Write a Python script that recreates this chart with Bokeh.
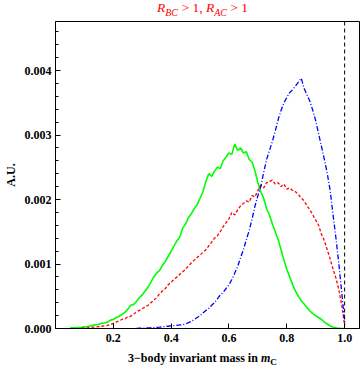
import numpy as np
from bokeh.plotting import figure
from bokeh.models import Range1d, FixedTicker, PrintfTickFormatter, Span, Div
from bokeh.layouts import column
from bokeh.embed import file_html
from bokeh.resources import INLINE

# bin centres of the histograms (3-body invariant mass in m_C)
mass = np.round(np.arange(1, 101) * 0.01, 2)

# histogram heights in units of 1e-3 (A.U.)
green = [0.000, 0.000, 0.002, 0.004, 0.006, 0.010, 0.012, 0.016, 0.020, 0.025,
         0.030, 0.040, 0.050, 0.060, 0.065, 0.080, 0.085, 0.100, 0.130, 0.140,
         0.170, 0.190, 0.220, 0.250, 0.300, 0.360, 0.370, 0.420, 0.480, 0.520,
         0.580, 0.640, 0.720, 0.800, 0.860, 0.900, 0.980, 1.040, 1.120, 1.200,
         1.280, 1.360, 1.420, 1.560, 1.620, 1.720, 1.780, 1.860, 1.920, 2.020,
         2.120, 2.280, 2.400, 2.360, 2.440, 2.500, 2.480, 2.600, 2.660, 2.720,
         2.700, 2.860, 2.760, 2.800, 2.720, 2.740, 2.620, 2.580, 2.440, 2.260,
         2.120, 2.020, 1.860, 1.760, 1.620, 1.500, 1.380, 1.220, 1.060, 0.920,
         0.800, 0.680, 0.580, 0.500, 0.430, 0.380, 0.320, 0.270, 0.230, 0.200,
         0.170, 0.140, 0.100, 0.070, 0.040, 0.020, 0.010, 0.005, 0.000, 0.000]

red = [0.000, 0.000, 0.000, 0.000, 0.000, 0.000, 0.000, 0.002, 0.004, 0.006,
       0.010, 0.014, 0.020, 0.025, 0.030, 0.035, 0.040, 0.050, 0.060, 0.080,
       0.100, 0.120, 0.140, 0.150, 0.180, 0.190, 0.220, 0.260, 0.280, 0.310,
       0.330, 0.360, 0.400, 0.440, 0.480, 0.540, 0.580, 0.620, 0.680, 0.720,
       0.760, 0.800, 0.840, 0.880, 0.920, 0.970, 1.020, 1.060, 1.100, 1.140,
       1.180, 1.220, 1.280, 1.340, 1.400, 1.440, 1.500, 1.580, 1.640, 1.700,
       1.800, 1.760, 1.840, 1.900, 1.940, 1.980, 1.960, 2.060, 2.040, 2.140,
       2.220, 2.180, 2.260, 2.280, 2.300, 2.240, 2.260, 2.200, 2.240, 2.160,
       2.180, 2.140, 2.120, 2.080, 2.020, 1.980, 1.900, 1.840, 1.760, 1.680,
       1.600, 1.460, 1.360, 1.220, 1.080, 0.920, 0.780, 0.600, 0.360, 0.050]

blue = [0.000, 0.000, 0.000, 0.000, 0.000, 0.000, 0.000, 0.000, 0.000, 0.000,
        0.000, 0.000, 0.000, 0.000, 0.000, 0.000, 0.000, 0.000, 0.000, 0.000,
        0.000, 0.000, 0.000, 0.000, 0.000, 0.000, 0.000, 0.002, 0.004, 0.005,
        0.008, 0.010, 0.012, 0.015, 0.018, 0.020, 0.025, 0.030, 0.035, 0.040,
        0.045, 0.050, 0.055, 0.060, 0.070, 0.090, 0.110, 0.140, 0.170, 0.200,
        0.240, 0.280, 0.310, 0.360, 0.400, 0.460, 0.520, 0.560, 0.620, 0.680,
        0.760, 0.860, 0.960, 1.100, 1.220, 1.380, 1.520, 1.700, 1.900, 2.060,
        2.200, 2.420, 2.620, 2.760, 2.900, 3.060, 3.240, 3.380, 3.500, 3.580,
        3.660, 3.700, 3.760, 3.820, 3.880, 3.720, 3.620, 3.520, 3.380, 3.220,
        3.020, 2.820, 2.620, 2.400, 2.140, 1.760, 1.400, 1.000, 0.560, 0.100]

green_start, red_start, blue_start = 4, 8, 27   # first drawn bin of each series
x_ticks = [0.2, 0.4, 0.6, 0.8, 1.0]
y_ticks = [0.0, 0.001, 0.002, 0.003, 0.004]
y_minor = [0.0002 * i for i in range(24)]
kinematic_edge = 1.0
scale = 1e-3

FONT = "Liberation Serif"

title_div = Div(
    text=('<div style="position:relative; left:157px; top:0px; white-space:nowrap; '
          'font-family:\'Liberation Serif\'; font-size:13.5px; color:#ff0000; line-height:14px;">'
          '<i>R</i><sub style="font-size:10px; font-style:italic; line-height:0;">BC</sub> &gt; 1, '
          '<i>R</i><sub style="font-size:10px; font-style:italic; line-height:0;">AC</sub> &gt; 1</div>'),
    width=360, height=20, margin=(0, 0, 0, 0))

xlabel_div = Div(
    text=('<div style="position:relative; left:128px; top:2px; white-space:nowrap; '
          'font-family:\'Liberation Serif\'; font-size:12px; font-weight:bold; color:#000000; line-height:14px;">'
          '3\u2212body invariant mass in <i>m</i><sub style="font-size:9px; line-height:0;">C</sub></div>'),
    width=360, height=21, margin=(0, 0, 0, 0))

p = figure(width=360, height=328, output_backend="svg", toolbar_location=None,
           x_range=Range1d(0.0, 1.0514), y_range=Range1d(0.0, 0.00476),
           min_border_left=52, min_border_right=1, min_border_top=1,
           min_border_bottom=20, margin=(0, 0, 0, 0))
p.background_fill_color = "white"
p.border_fill_color = "white"
p.outline_line_color = "black"
p.outline_line_width = 1
p.grid.visible = False

for ax in (p.xaxis[0], p.yaxis[0]):
    ax.axis_line_color = "black"
    ax.major_tick_line_color = "black"
    ax.minor_tick_line_color = "black"
    ax.major_tick_in = 5
    ax.major_tick_out = 0
    ax.minor_tick_in = 3
    ax.minor_tick_out = 0
    ax.major_label_text_font = FONT
    ax.major_label_text_font_style = "bold"
    ax.major_label_text_font_size = "12px"
    ax.major_label_text_color = "black"

p.xaxis.major_label_standoff = 5
p.yaxis.major_label_standoff = 4
p.xaxis.ticker = FixedTicker(ticks=x_ticks, minor_ticks=[])
p.xaxis.formatter = PrintfTickFormatter(format="%.1f")
p.yaxis.ticker = FixedTicker(ticks=y_ticks, minor_ticks=y_minor)
p.yaxis.formatter = PrintfTickFormatter(format="%.3f")

p.yaxis.axis_label = "A.U."
p.yaxis.axis_label_text_font = FONT
p.yaxis.axis_label_text_font_style = "bold"
p.yaxis.axis_label_text_font_size = "12px"
p.yaxis.axis_label_text_color = "black"
p.yaxis.axis_label_standoff = 4

p.line(mass[green_start:], np.array(green[green_start:]) * scale,
       line_color="#00ff00", line_width=1.6)
p.line(mass[red_start:], np.array(red[red_start:]) * scale,
       line_color="#ff0000", line_width=1.3, line_dash="3 2")
p.line(mass[blue_start:], np.array(blue[blue_start:]) * scale,
       line_color="#0000ff", line_width=1.3, line_dash="5 2 1 2")

p.add_layout(Span(location=kinematic_edge, dimension="height", line_color="black",
                  line_width=1, line_dash="4 3"))

layout = column(title_div, p, xlabel_div, spacing=0)

open("out.html", "w").write(file_html(layout, INLINE))
